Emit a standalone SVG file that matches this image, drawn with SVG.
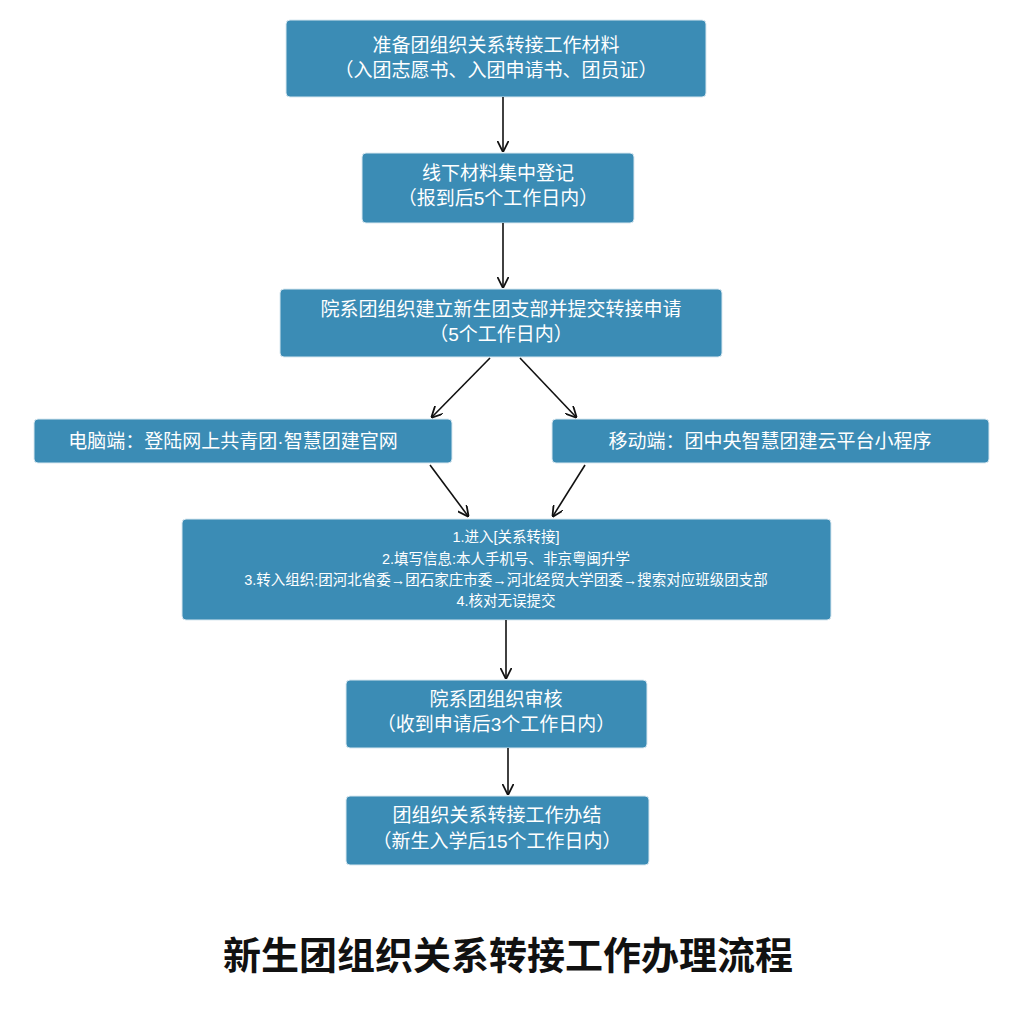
<svg xmlns="http://www.w3.org/2000/svg" width="1024" height="1014" viewBox="0 0 1024 1014">
<style>
.b{fill:#3b8cb5;stroke:#d9e8f0;stroke-width:1}
.t{fill:#fff;font-family:"Liberation Sans","Noto Sans CJK SC",sans-serif;font-size:19px;text-anchor:middle}
.s{font-size:14.5px}
.c{stroke:#111;stroke-width:1.6;fill:none;marker-end:url(#a)}
</style>
<defs><marker id="a" viewBox="0 0 10 10" refX="9" refY="5" markerWidth="7" markerHeight="7" orient="auto"><path d="M0,0L10,5L0,10" fill="none" stroke="#111" stroke-width="1.6"/></marker></defs>
<rect width="1024" height="1014" fill="#fff"/>
<g id="n1"><rect class="b" x="286" y="20" width="420" height="77" rx="4"/><text class="t" x="496" y="52">准备团组织关系转接工作材料</text><text class="t" x="496" y="77">（入团志愿书、入团申请书、团员证）</text></g>
<g id="n2"><rect class="b" x="362" y="153" width="272" height="70" rx="4"/><text class="t" x="498" y="180">线下材料集中登记</text><text class="t" x="498" y="205">（报到后5个工作日内）</text></g>
<g id="n3"><rect class="b" x="280" y="289" width="442" height="68" rx="4"/><text class="t" x="501" y="316">院系团组织建立新生团支部并提交转接申请</text><text class="t" x="501" y="341">（5个工作日内）</text></g>
<g id="n4"><rect class="b" x="34" y="419" width="418" height="44" rx="4"/><text class="t" x="233" y="448">电脑端：登陆网上共青团·智慧团建官网</text></g>
<g id="n5"><rect class="b" x="552" y="419" width="437" height="44" rx="4"/><text class="t" x="770" y="448">移动端：团中央智慧团建云平台小程序</text></g>
<g id="n6"><rect class="b" x="182" y="519" width="649" height="101" rx="4"/><text class="t s" x="506" y="542">1.进入[关系转接]</text><text class="t s" x="506" y="564">2.填写信息:本人手机号、非京粤闽升学</text><text class="t s" x="506" y="585">3.转入组织:团河北省委→团石家庄市委→河北经贸大学团委→搜索对应班级团支部</text><text class="t s" x="506" y="606">4.核对无误提交</text></g>
<g id="n7"><rect class="b" x="346" y="680" width="301" height="68" rx="4"/><text class="t" x="496" y="706">院系团组织审核</text><text class="t" x="496" y="731">（收到申请后3个工作日内）</text></g>
<g id="n8"><rect class="b" x="346" y="796" width="303" height="69" rx="4"/><text class="t" x="497" y="822">团组织关系转接工作办结</text><text class="t" x="497" y="848">（新生入学后15个工作日内）</text></g>
<g id="connectors">
<line class="c" x1="503" y1="97" x2="503" y2="151"/>
<line class="c" x1="503" y1="223" x2="503" y2="287"/>
<line class="c" x1="490" y1="358" x2="432" y2="417"/>
<line class="c" x1="520" y1="358" x2="576" y2="417"/>
<line class="c" x1="430" y1="465" x2="468" y2="516"/>
<line class="c" x1="585" y1="465" x2="553" y2="516"/>
<line class="c" x1="506" y1="620" x2="506" y2="678"/>
<line class="c" x1="508" y1="748" x2="508" y2="794"/>
</g>
<text x="508" y="969" text-anchor="middle" font-family="'Noto Sans CJK SC',sans-serif" font-weight="bold" font-size="38" fill="#111">新生团组织关系转接工作办理流程</text>
</svg>
